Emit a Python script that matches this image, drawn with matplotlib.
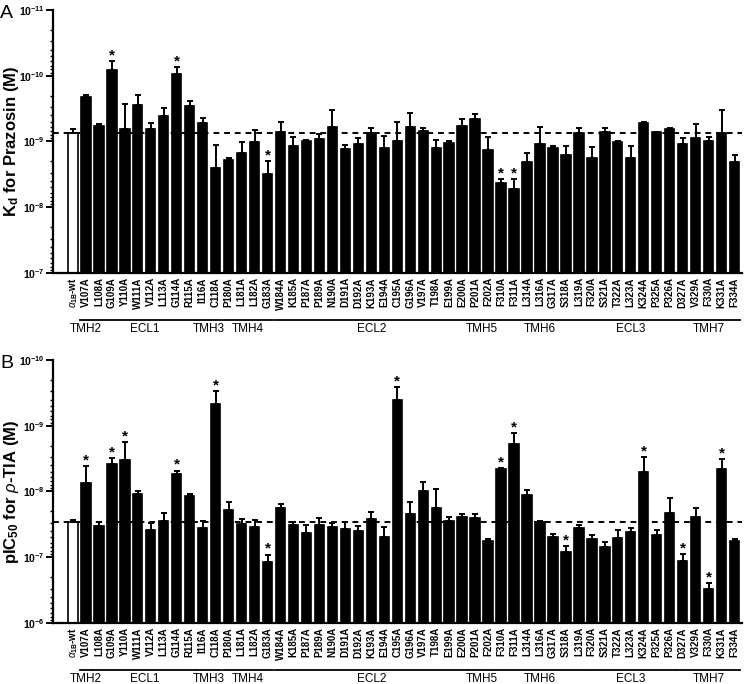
import numpy as np
import matplotlib
matplotlib.use('Agg')
from matplotlib import pyplot as plt
from matplotlib import ticker, transforms

plt.rcParams['font.family'] = ['Liberation Sans', 'DejaVu Sans']
plt.rcParams['mathtext.fontset'] = 'custom'
plt.rcParams['mathtext.rm'] = 'Liberation Sans'
plt.rcParams['mathtext.bf'] = 'Liberation Sans:bold'
plt.rcParams['mathtext.it'] = 'Liberation Sans:italic'

mutants = [r'$\alpha_{\mathbf{1B}}$-wt', 'V107A', 'L108A', 'G109A', 'Y110A', 'W111A', 'V112A',
           'L113A', 'G114A', 'R115A', 'I116A', 'C118A', 'P180A', 'L181A', 'L182A',
           'G183A', 'W184A', 'K185A', 'P187A', 'P189A', 'N190A', 'D191A', 'D192A',
           'K193A', 'E194A', 'C195A', 'G196A', 'V197A', 'T198A', 'E199A', 'E200A',
           'P201A', 'F202A', 'F310A', 'F311A', 'L314A', 'L316A', 'G317A', 'S318A',
           'L319A', 'F320A', 'S321A', 'T322A', 'L323A', 'K324A', 'P325A', 'P326A',
           'D327A', 'V329A', 'F330A', 'K331A', 'F334A']

group_names = ['TMH2', 'ECL1', 'TMH3', 'TMH4', 'ECL2', 'TMH5', 'TMH6', 'ECL3', 'TMH7']
group_sizes = [1, 8, 2, 4, 15, 2, 7, 7, 5]

# Kd for prazosin (M), mean and SEM
kd_mean = [7.5e-10, 2.13e-10, 5.8e-10, 8.3e-11, 6.5e-10, 2.79e-10, 6.5e-10,
           4.1e-10, 9.3e-11, 2.86e-10, 5.3e-10, 2.5e-9, 1.91e-9, 1.48e-9, 1.01e-9,
           3.1e-9, 7.2e-10, 1.17e-9, 9.7e-10, 9.3e-10, 6.1e-10, 1.29e-9, 1.09e-9,
           7.5e-10, 1.27e-9, 9.7e-10, 6.0e-10, 6.9e-10, 1.24e-9, 1.04e-9, 5.8e-10,
           4.5e-10, 1.35e-9, 4.3e-9, 5.3e-9, 2.07e-9, 1.10e-9, 1.24e-9, 1.60e-9,
           7.4e-10, 1.78e-9, 7.2e-10, 1.02e-9, 1.80e-9, 5.2e-10, 7.2e-10, 6.4e-10,
           1.08e-9, 8.9e-10, 9.8e-10, 7.5e-10, 2.03e-9]
kd_sem = [1.0e-10, 1.7e-11, 4.0e-11, 2.4e-11, 3.84e-10, 8.5e-11, 1.3e-10,
          1.04e-10, 1.9e-11, 4.7e-11, 9.0e-11, 1.38e-9, 1.3e-10, 4.7e-10, 3.4e-10,
          1.1e-9, 2.2e-10, 3.2e-10, 3.0e-11, 1.7e-10, 2.8e-10, 1.5e-10, 2.2e-10,
          1.2e-10, 4.4e-10, 4.6e-10, 2.3e-10, 6.0e-11, 2.9e-10, 4.0e-11, 1.3e-10,
          6.5e-11, 5.0e-10, 6.0e-10, 1.6e-9, 5.6e-10, 5.0e-10, 8.0e-11, 4.4e-10,
          1.2e-10, 5.8e-10, 1.0e-10, 2.0e-11, 6.1e-10, 2.0e-11, 1.0e-11, 1.0e-11,
          1.9e-10, 3.5e-10, 1.3e-10, 4.2e-10, 4.4e-10]
kd_sig = ['G109A', 'G114A', 'G183A', 'F310A', 'F311A']

# pIC50 for rho-TIA (M), mean and SEM
ic_mean = [2.94e-8, 7.3e-9, 3.31e-8, 3.85e-9, 3.28e-9, 1.09e-8, 3.89e-8,
           2.78e-8, 5.5e-9, 1.18e-8, 3.63e-8, 4.7e-10, 1.89e-8, 3.12e-8, 3.43e-8,
           1.19e-7, 1.76e-8, 3.27e-8, 4.24e-8, 3.24e-8, 3.51e-8, 3.76e-8, 3.94e-8,
           2.59e-8, 4.86e-8, 4.05e-10, 2.22e-8, 9.7e-9, 1.80e-8, 2.84e-8, 2.41e-8,
           2.5e-8, 5.7e-8, 4.5e-9, 1.90e-9, 1.13e-8, 2.88e-8, 4.86e-8, 8.3e-8,
           3.59e-8, 5.3e-8, 7.1e-8, 5.1e-8, 4.13e-8, 5.0e-9, 4.54e-8, 2.15e-8,
           1.15e-7, 2.41e-8, 3.07e-7, 4.6e-9, 5.7e-8]
ic_sem = [2.3e-9, 3.2e-9, 4.3e-9, 7.2e-10, 1.49e-9, 1.1e-9, 8.4e-9,
          6.6e-9, 7.0e-10, 9.0e-10, 8.5e-9, 1.74e-10, 4.6e-9, 4.7e-9, 7.4e-9,
          2.8e-8, 1.9e-9, 3.6e-9, 1.0e-8, 7.4e-9, 5.2e-9, 8.5e-9, 6.3e-9,
          5.4e-9, 1.43e-8, 1.5e-10, 7.7e-9, 2.6e-9, 8.7e-9, 4.3e-9, 2.3e-9,
          3.0e-9, 5.0e-9, 1.5e-10, 6.0e-10, 1.8e-9, 5.0e-10, 3.8e-9, 1.6e-8,
          3.2e-9, 7.6e-9, 1.3e-8, 1.29e-8, 5.4e-9, 2.04e-9, 7.3e-9, 8.8e-9,
          2.5e-8, 6.1e-9, 5.8e-8, 1.42e-9, 4.0e-9]
ic_sig = ['V107A', 'G109A', 'Y110A', 'G114A', 'C118A', 'G183A', 'C195A', 'F310A',
          'F311A', 'S318A', 'K324A', 'D327A', 'F330A', 'K331A']

kd_ticks = [1e-11, 1e-10, 1e-9, 1e-8, 1e-7]
kd_ticklabels = [r'$\mathbf{10^{-11}}$', r'$\mathbf{10^{-10}}$', r'$\mathbf{10^{-9}}$',
                 r'$\mathbf{10^{-8}}$', r'$\mathbf{10^{-7}}$']
ic_ticks = [1e-10, 1e-9, 1e-8, 1e-7, 1e-6]
ic_ticklabels = [r'$\mathbf{10^{-10}}$', r'$\mathbf{10^{-9}}$', r'$\mathbf{10^{-8}}$',
                 r'$\mathbf{10^{-7}}$', r'$\mathbf{10^{-6}}$']

NARROW = ['Liberation Sans Narrow', 'Liberation Sans', 'DejaVu Sans']


def draw_panel(ax, means, sems, sig, ticks, ticklabels, ylabel, letter):
    '''Draw one panel of bars on an inverted log axis'''
    x = np.arange(len(means))
    means = np.array(means)
    sems = np.array(sems)
    base = ticks[-1]
    colors = ['white'] + ['black'] * (len(means) - 1)
    ax.bar(x, base - means, bottom=means, width=0.72, color=colors,
           edgecolor='black', linewidth=1.2, zorder=2)
    ax.errorbar(x, means, yerr=[sems, np.zeros_like(sems)], fmt='none',
                ecolor='black', elinewidth=1.4, capsize=2.4, capthick=1.4, zorder=3)
    ax.axhline(means[0], color='black', linestyle=(0, (3, 2.5)), linewidth=1.4, zorder=4)

    for name in sig:
        i = mutants.index(name)
        ax.annotate('*', (i, means[i] - sems[i]), xytext=(0, -1), textcoords='offset points',
                    ha='center', va='bottom', fontsize=11, fontweight='bold')

    ax.set_yscale('log')
    ax.set_ylim(ticks[-1], ticks[0])
    ax.set_xlim(-1.54, len(means) - 0.42)
    ax.set_yticks(ticks)
    ax.set_yticklabels(ticklabels, fontsize=7.5)
    ax.yaxis.set_minor_locator(ticker.LogLocator(base=10, subs=np.arange(2, 10)))
    ax.yaxis.set_minor_formatter(ticker.NullFormatter())
    ax.tick_params(axis='y', which='major', length=5, width=1.4, pad=1)
    ax.tick_params(axis='y', which='minor', length=2.5, width=1.0)
    ax.set_xticks(x)
    ax.set_xticklabels(mutants, rotation=90, fontsize=7, fontweight='bold', family=NARROW)
    ax.tick_params(axis='x', length=0, pad=3)
    for side in ['top', 'right']:
        ax.spines[side].set_visible(False)
    for side in ['left', 'bottom']:
        ax.spines[side].set_linewidth(1.6)
    ax.set_ylabel(ylabel, fontsize=12, fontweight='bold')
    ax.yaxis.set_label_coords(-0.047, 0.5)

    # membrane region brackets under the tick labels
    trans = transforms.blended_transform_factory(ax.transData, ax.transAxes)
    start = 1
    for name, size in zip(group_names, group_sizes):
        end = start + size - 1
        ax.plot([start - 0.45, end + 0.45], [-0.178, -0.178], color='black',
                linewidth=1.3, transform=trans, clip_on=False)
        ax.text((start + end) / 2, -0.212, name, transform=trans, ha='center',
                va='center', fontsize=8.5, family=NARROW)
        start = end + 1

    ax.text(-0.077, 0.985, letter, transform=ax.transAxes, fontsize=14,
            ha='left', va='center')


fig = plt.figure(figsize=(7.45, 6.84), dpi=100)
ax_a = fig.add_axes([0.0711, 0.6009, 0.925, 0.3845])
ax_b = fig.add_axes([0.0711, 0.0892, 0.925, 0.3845])

draw_panel(ax_a, kd_mean, kd_sem, kd_sig, kd_ticks, kd_ticklabels,
           r'K$_\mathbf{d}$ for Prazosin (M)', 'A')
draw_panel(ax_b, ic_mean, ic_sem, ic_sig, ic_ticks, ic_ticklabels,
           r'pIC$_\mathbf{50}$ for $\rho$-TIA (M)', 'B')

fig.savefig('out.png', dpi=100)
